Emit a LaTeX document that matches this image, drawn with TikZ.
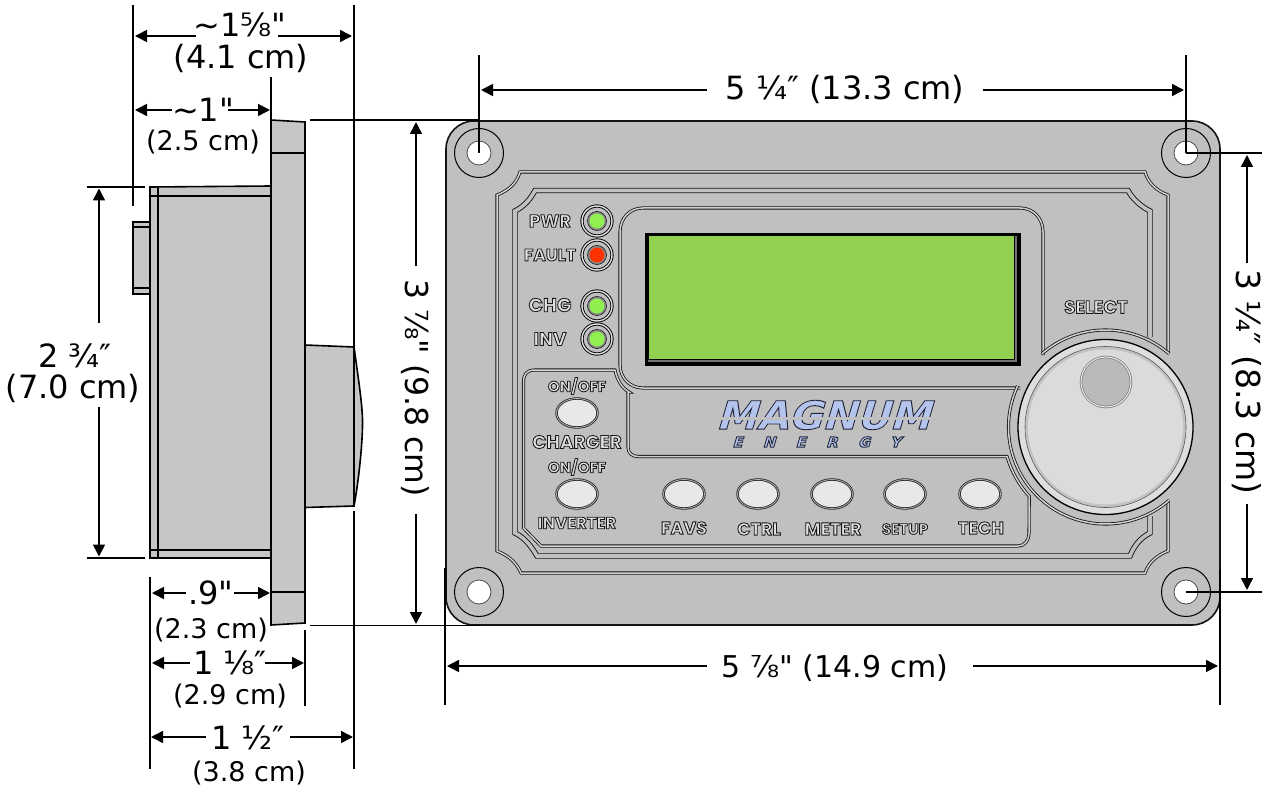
\documentclass[tikz,border=0pt]{standalone}
\usepackage{fontspec}
\setmainfont{DejaVu Sans}[Ligatures=TeXOff]
\newfontfamily\panelfont{Poppins}
\newfontfamily\logofont{DejaVu Sans}[FakeStretch=1.05]
\usetikzlibrary{arrows.meta,calc}
\newcommand{\outl}[1]{\special{pdf:code q 2 Tr 0.85 w 0.1 0.1 0.1 RG 0.88 g}#1\special{pdf:code Q}}
\newcommand{\outlogo}[1]{\special{pdf:code q 2 Tr 0.9 w 0.12 0.14 0.22 RG 0.71 0.77 0.93 rg}#1\special{pdf:code Q}}
\definecolor{panelgray}{HTML}{C0C0C0}
\definecolor{sidegray}{HTML}{C6C6C6}
\definecolor{lcdgreen}{HTML}{92D050}
\definecolor{ledgreen}{HTML}{90F050}
\definecolor{ledred}{HTML}{FF3300}
\tikzset{
  dimline/.style={draw=black,line width=1.6pt},
  dimarrow/.style={dimline,-{Triangle[length=12pt,width=12pt]}},
  biglabel/.style={inner sep=0pt,font=\fontsize{32}{36}\selectfont},
  midlabel/.style={inner sep=0pt,font=\fontsize{#1}{34}\selectfont},
  smalllabel/.style={inner sep=0pt,font=\fontsize{27}{30}\selectfont},
  sidepart/.style={draw=black,fill=sidegray,line width=1.6pt},
  sideline/.style={draw=black,line width=1.5pt},
  groove/.style={draw=black!92,line width=.8pt,double=#1,double distance=1.5pt},
  groove/.default={black!18},
  widegroove/.style={draw=black!92,line width=.9pt,double=panelgray,double distance=3.6pt},
  panellabel/.style={inner sep=0pt,font=\panelfont\bfseries\fontsize{#1}{#1}\selectfont},
  softkey/.style={draw=black!85,fill=black!9,line width=.8pt,double=black!30,double distance=.8pt},
  holering/.style={circle,draw=black,line width=1pt,minimum size=49pt,inner sep=0pt},
  holedisc/.style={circle,draw=black!70,fill=white,line width=.8pt,minimum size=24pt,inner sep=0pt}
}
\begin{document}
\begin{tikzpicture}[x=1pt,y=-1pt]
\useasboundingbox (0,0) rectangle (1270,789);

% ---- side view ----
\draw[sidepart] (133,222) rectangle (150,294);
\draw[sideline] (133,227) -- (150,227) (133,288) -- (150,288);
\draw[sidepart] (150,187) -- (271,186) -- (271,558) -- (150,558) -- cycle;
\draw[sideline] (158,187) -- (158,558) (150,196) -- (271,196) (150,550) -- (271,550);
\draw[sidepart] (271,120) -- (305,122) -- (305,623) -- (271,625) -- cycle;
\draw[sideline] (271,153) -- (305,153) (271,592) -- (305,592);
\draw[sidepart] (354,347) .. controls (360,390) and (363,410) .. (362.5,427) .. controls (362,450) and (358,485) .. (354,506) -- cycle;
\draw[sidepart] (305,345) -- (354,347) -- (354,506) -- (305,507.5) -- cycle;

% ---- front panel ----
\draw[fill=panelgray,draw=black!92,line width=1.6pt,rounded corners=28pt] (446,121) rectangle (1220,625);
\node[holering] (ringa) at (479,153) {};
\node[holering] (ringb) at (1186,153) {};
\node[holering] (ringc) at (479,592) {};
\node[holering] (ringd) at (1186,592) {};
\node[holedisc] (holea) at (479,153) {};
\node[holedisc] (holeb) at (1186,153) {};
\node[holedisc] (holec) at (479,592) {};
\node[holedisc] (holed) at (1186,592) {};

\coordinate (knob) at (1105.5,427);
% outer recess
\draw[groove] (1168,352) -- (1168,195) .. controls (1155,190) and (1148,182) .. (1145,172) -- (520,172)
  .. controls (517,182) and (510,190) .. (497,195) -- (497,551) .. controls (510,556) and (517,564) .. (521,573)
  -- (1145,573) .. controls (1148,564) and (1155,556) .. (1168,551) -- (1168,501);
% inner recess
\draw[widegroove] (1150,337) -- (1150,211) .. controls (1140,206) and (1132,198) .. (1128,190.5) -- (535,190.5)
  .. controls (531,198) and (525,206) .. (515,211) -- (515,533) .. controls (525,538) and (531,546) .. (537,556)
  -- (1130,556) .. controls (1134,546) and (1140,538) .. (1150,533) -- (1150,516);
% display recess
\draw[groove] (1043,355) -- (1043,232) .. controls (1043,218) and (1033,208) .. (1020,208) -- (643,208)
  .. controls (630,208) and (620,218) .. (620,232) -- (620,365) .. controls (620,378) and (630,388) .. (643,388) -- (1020,388);
% button area
\draw[groove] (523.5,528) -- (523.5,382) .. controls (523.5,374) and (527,370) .. (535,370) -- (615,370)
  .. controls (617,380) and (622,388) .. (629,392) -- (628,392) -- (628,447) .. controls (628,453) and (632,456.5) .. (638,456.5)
  -- (1007,456.5) arc[start angle=163.6,end angle=138,radius=103] -- (1029,533)
  .. controls (1029,540) and (1025,546) .. (1018,546) -- (541,546) -- cycle;
% knob rings
\draw[groove] ($(knob)+(229:97)$) arc[start angle=229,end angle=311,radius=97];
\draw[groove] ($(knob)+(49:97)$) arc[start angle=49,end angle=205,radius=97];
\node[circle,draw=black,fill=black!13,line width=1.3pt,minimum size=175pt,inner sep=0pt] (knobouter) at (knob) {};
\node[circle,draw=black!65,fill=black!24,line width=.6pt,minimum size=161pt,inner sep=0pt] (knobring) at (knob) {};
\node[circle,fill=black!14,minimum size=155pt,inner sep=0pt] (knobface) at (knob) {};
\node[circle,draw=black!50,fill=black!27,line width=.8pt,double=black!8,double distance=1pt,minimum size=50pt,inner sep=0pt] (dimple) at (1106,382) {};

% LCD
\draw[fill=black,draw=black] (645,233) rectangle (1020,365);
\draw[fill=black!55,draw=none] (648,236) rectangle (1017,362);
\draw[fill=lcdgreen,draw=black,line width=.8pt] (648,235) rectangle (1014.5,359.5);

% LEDs
\foreach \n/\y/\c in {a/221/ledgreen,b/255/ledred,c/306/ledgreen,d/339/ledgreen}{
  \node[circle,draw=black,line width=.9pt,double=black!12,double distance=1.4pt,minimum size=30pt,inner sep=0pt] (ledring\n) at (597,\y) {};
  \node[circle,draw=black!85,fill=black!45,line width=.7pt,minimum size=19pt,inner sep=0pt] (ledbase\n) at (597,\y) {};
  \node[circle,fill=\c,minimum size=15pt,inner sep=0pt] (led\n) at (597,\y) {};
}

% panel labels
\node[panellabel=18] (pwr) at (550,221) {\outl{PWR}};
\node[panellabel=17] (fault) at (550,255) {\outl{FAULT}};
\node[panellabel=19] (chg) at (550,305) {\outl{CHG}};
\node[panellabel=18.5] (inv) at (550,339) {\outl{INV}};
\node[panellabel=15] (onoffa) at (577,386) {\outl{ON/OFF}};
\node[panellabel=18.5] (charger) at (577,442) {\outl{CHARGER}};
\node[panellabel=15] (onoffb) at (577,467) {\outl{ON/OFF}};
\node[panellabel=16.5] (inverter) at (577,523) {\outl{INVERTER}};
\node[panellabel=17.5] (favs) at (684,528) {\outl{FAVS}};
\node[panellabel=17.5] (ctrl) at (759,529) {\outl{CTRL}};
\node[panellabel=17.5] (meter) at (833,529) {\outl{METER}};
\node[panellabel=15] (setup) at (905,529) {\outl{SETUP}};
\node[panellabel=17.5] (tech) at (981,528) {\outl{TECH}};
\node[panellabel=18] (select) at (1096,307) {\outl{SELECT}};

% soft keys
\foreach \n/\x/\y in {chargerkey/577/413,inverterkey/577/494,favskey/684/494,ctrlkey/758/494,meterkey/832/494,setupkey/905/494,techkey/980/494}{
  \draw[softkey] (\x,\y) ellipse [x radius=20.5,y radius=14.5];
}

% logo
\node[inner sep=0pt,xslant=.3,transform shape,font=\logofont\bfseries\fontsize{39}{39}\selectfont] (magnum) at (827,415) {\outlogo{MAGNUM}};
\fill[panelgray] (716,416.5) rectangle (940,419.5);
\node[inner sep=0pt,xslant=.3,transform shape,font=\logofont\bfseries\fontsize{14}{14}\selectfont] (energy) at (818,442) {\outlogo{\addfontfeature{LetterSpace=146}ENERGY}};

% ---- dimension labels ----
\node[biglabel] (l158) at (240,25) {\textasciitilde 1⅝"};
\node[biglabel] (l158cm) at (241,58) {(4.1 cm)};
\node[biglabel] (l1) at (203,110) {\textasciitilde 1"};
\node[smalllabel] (l1cm) at (203,142) {(2.5 cm)};
\node[biglabel] (l234) at (75,356) {2 ¾″};
\node[biglabel] (l234cm) at (73,388) {(7.0 cm)};
\node[biglabel] (l09) at (211,593) {.9"};
\node[smalllabel] (l09cm) at (211,630) {(2.3 cm)};
\node[biglabel] (l118) at (230,663) {1 ⅛″};
\node[smalllabel] (l118cm) at (230,696) {(2.9 cm)};
\node[biglabel] (l112) at (248,738) {1 ½″};
\node[smalllabel] (l112cm) at (249,773) {(3.8 cm)};
\node[midlabel=31.5] (l378) at (415,388) [rotate=-90] {3 ⅞" (9.8 cm)};
\node[midlabel=32] (l514) at (845,89) {5 ¼″ (13.3 cm)};
\node[midlabel=33] (l314) at (1247,382) [rotate=-90] {3 ¼″ (8.3 cm)};
\node[midlabel=30] (l578) at (835,668) {5 ⅞" (14.9 cm)};

% ---- extension lines ----
\path coordinate (e1a) at (133,5) coordinate (e1b) at (133,206)
      coordinate (e2a) at (354,5) coordinate (e2b) at (354,347)
      coordinate (e3a) at (354,511) coordinate (e3b) at (354,769)
      coordinate (e4a) at (271,77) coordinate (e4b) at (271,119)
      coordinate (e5a) at (87,187) coordinate (e5b) at (145,187)
      coordinate (e6a) at (87,558) coordinate (e6b) at (145,558)
      coordinate (e7a) at (310,120) coordinate (e7b) at (480,120)
      coordinate (e8a) at (310,625.5) coordinate (e8b) at (480,625.5)
      coordinate (e9a) at (150,577) coordinate (e9b) at (150,769)
      coordinate (e10a) at (305,630) coordinate (e10b) at (305,706)
      coordinate (e11a) at (479,55) coordinate (e11b) at (479,153)
      coordinate (e12a) at (1186,55) coordinate (e12b) at (1186,153)
      coordinate (e13a) at (1186,153) coordinate (e13b) at (1262,153)
      coordinate (e14a) at (1186,592) coordinate (e14b) at (1262,592)
      coordinate (e15a) at (445,568) coordinate (e15b) at (445,705)
      coordinate (e16a) at (1220,570) coordinate (e16b) at (1220,705);
\foreach \k in {1,...,16}{\draw[dimline] (e\k a) -- (e\k b);}

% ---- dimension arrows: from a start beside the label to a tip ----
\foreach \s/\t/\u/\v in {
  196/36/135/36, 278/36/352/36,
  172/110/135/110, 228/110/270/110,
  186/593/152/593, 234/593/270/593,
  190/663/152/663, 265/663/304/663,
  206/737/151/737, 290/737/353/737,
  707/90/481/90, 983/90/1184/90,
  707/666/447/666, 973/666/1218/666,
  99/323/99/188.5, 99/407/99/556.5,
  416/266/416/122, 416/514/416/624,
  1247/263/1247/155, 1247/504/1247/590
}{
  \coordinate (as) at (\s,\t);
  \coordinate (at) at (\u,\v);
  \draw[dimarrow] (as) -- (at);
}
\end{tikzpicture}
\end{document}
